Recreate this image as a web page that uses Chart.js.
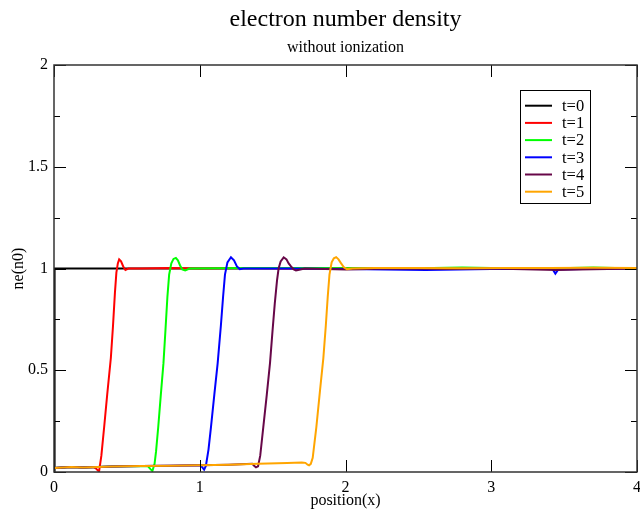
<!DOCTYPE html>
<html><head><meta charset="utf-8">
<script src="https://cdn.jsdelivr.net/npm/chart.js@4"></script>
<style>html,body{margin:0;padding:0;background:#fff}</style>
</head><body>
<canvas id="c" width="640" height="514"></canvas>
<script>
const titleText = 'electron number density';
const subtitleText = 'without ionization';
const xAxisTitle = 'position(x)';
const yAxisTitle = 'ne(n0)';
const seriesLabels = ['t=0', 't=1', 't=2', 't=3', 't=4', 't=5'];
const seriesColors = ['#000000', '#ff0000', '#00ff00', '#0000ff', '#670748', '#ffa500'];
const xTickValues = [0, 1, 2, 3, 4];
const yTickValues = [0, 0.5, 1, 1.5, 2];
const yMinorTickValues = [0.25, 0.75, 1.25, 1.75];

const x0 = [0, 0.004, 4];
const y0 = [0, 1, 1];

const x1 = [0, 0.12, 0.2, 0.27, 0.29, 0.309, 0.325, 0.344, 0.365, 0.39, 0.405, 0.418, 0.428, 0.438, 0.447, 0.46, 0.475, 0.49, 0.51, 0.6, 0.8, 1.0, 1.3, 1.6, 2.0, 2.4, 2.8, 3.2, 3.6, 4.0];
const y1 = [0.02, 0.024, 0.022, 0.024, 0.016, 0.002, 0.08, 0.22, 0.38, 0.56, 0.72, 0.88, 0.98, 1.025, 1.045, 1.035, 1.01, 0.993, 1.0, 1.0, 1.003, 1.0, 1.002, 1.0, 1.001, 1.0, 1.002, 0.999, 1.0, 1.0];

const x2 = [0, 0.12, 0.2, 0.4, 0.6, 0.645, 0.662, 0.675, 0.69, 0.70, 0.715, 0.733, 0.751, 0.765, 0.778, 0.79, 0.805, 0.82, 0.836, 0.85, 0.865, 0.88, 0.9, 0.93, 1.3, 1.8, 2.4, 2.8, 3.3, 3.7, 4.0];
const y2 = [0.02, 0.024, 0.022, 0.027, 0.029, 0.028, 0.014, 0.005, 0.04, 0.1, 0.22, 0.38, 0.535, 0.7, 0.86, 0.97, 1.025, 1.047, 1.052, 1.04, 1.015, 0.995, 0.99, 1.0, 1.003, 1.002, 1.0, 1.005, 0.999, 1.005, 1.0];

const x3 = [0, 0.12, 0.2, 0.4, 0.6, 0.8, 1.0, 1.015, 1.03, 1.042, 1.06, 1.077, 1.1, 1.123, 1.145, 1.16, 1.173, 1.19, 1.214, 1.235, 1.255, 1.275, 1.3, 1.6, 2.0, 2.55, 3.0, 3.42, 3.44, 3.46, 3.8, 4.0];
const y3 = [0.02, 0.024, 0.022, 0.027, 0.029, 0.031, 0.033, 0.025, 0.012, 0.03, 0.11, 0.22, 0.38, 0.535, 0.72, 0.86, 0.97, 1.03, 1.055, 1.04, 1.01, 0.997, 1.0, 1.0, 0.998, 0.993, 0.998, 0.998, 0.975, 0.995, 1.0, 1.0];

const x4 = [0, 0.12, 0.2, 0.4, 0.6, 0.8, 1.0, 1.2, 1.36, 1.375, 1.386, 1.4, 1.415, 1.436, 1.46, 1.482, 1.5, 1.515, 1.53, 1.541, 1.555, 1.576, 1.595, 1.61, 1.626, 1.645, 1.66, 1.69, 1.72, 2.0, 2.3, 2.7, 3.0, 3.45, 3.6, 4.0];
const y4 = [0.02, 0.024, 0.022, 0.027, 0.029, 0.031, 0.033, 0.036, 0.04, 0.03, 0.023, 0.028, 0.08, 0.22, 0.38, 0.535, 0.7, 0.83, 0.94, 1.0, 1.035, 1.055, 1.045, 1.025, 1.01, 0.995, 0.99, 0.995, 1.0, 0.995, 1.0, 0.997, 1.0, 0.993, 0.995, 1.0];

const x5 = [0, 0.12, 0.2, 0.4, 0.6, 0.8, 1.0, 1.2, 1.4, 1.6, 1.7, 1.725, 1.74, 1.75, 1.762, 1.775, 1.8, 1.825, 1.848, 1.865, 1.878, 1.89, 1.905, 1.92, 1.936, 1.952, 1.97, 1.99, 2.01, 2.05, 2.2, 2.5, 2.8, 3.1, 3.4, 3.7, 4.0];
const y5 = [0.02, 0.024, 0.022, 0.027, 0.029, 0.031, 0.033, 0.036, 0.04, 0.044, 0.047, 0.045, 0.036, 0.033, 0.04, 0.07, 0.22, 0.4, 0.56, 0.72, 0.86, 0.97, 1.03, 1.05, 1.056, 1.045, 1.025, 1.005, 0.997, 1.0, 1.003, 1.002, 1.001, 1.003, 1.002, 1.004, 1.003];

const xs = [x0, x1, x2, x3, x4, x5];
const ys = [y0, y1, y2, y3, y4, y5];

const FONT = "'Liberation Serif', 'DejaVu Serif', serif";

const datasets = seriesLabels.map((lab, i) => ({
  label: lab,
  data: xs[i].map((xv, k) => ({x: xv, y: ys[i][k]})),
  borderColor: seriesColors[i],
  backgroundColor: seriesColors[i],
  borderWidth: 2,
  pointRadius: 0,
  showLine: true,
  tension: 0,
  order: seriesLabels.length - 1 - i
}));

const framePlugin = {
  id: 'frame',
  afterDraw(chart) {
    const {ctx, chartArea: {left, right, top, bottom}, scales: {x, y}} = chart;
    ctx.save();
    ctx.strokeStyle = '#000';
    ctx.lineWidth = 1;
    const seg = (a, b, c, d) => { ctx.beginPath(); ctx.moveTo(a, b); ctx.lineTo(c, d); ctx.stroke(); };
    yTickValues.forEach(v => {
      const py = Math.round(y.getPixelForValue(v)) + 0.5;
      seg(left, py, left + 12, py); seg(right - 12, py, right, py);
    });
    yMinorTickValues.forEach(v => {
      const py = Math.round(y.getPixelForValue(v)) + 0.5;
      seg(left, py, left + 6, py); seg(right - 6, py, right, py);
    });
    xTickValues.forEach(v => {
      const px = Math.round(x.getPixelForValue(v)) + 0.5;
      seg(px, bottom, px, bottom - 12); seg(px, top, px, top + 12);
    });
    ctx.strokeStyle = '#333';
    ctx.lineWidth = 1.5;
    ctx.strokeRect(left, top, right - left, bottom - top);

    // legend
    const bx = 520.5, by = 90.5, bw = 70, bh = 113;
    ctx.fillStyle = '#fff';
    ctx.fillRect(bx, by, bw, bh);
    ctx.strokeStyle = '#000';
    ctx.lineWidth = 1;
    ctx.strokeRect(bx, by, bw, bh);
    ctx.font = '16.5px ' + FONT;
    ctx.textBaseline = 'middle';
    ctx.textAlign = 'left';
    chart.data.datasets.forEach((ds, i) => {
      const ry = 105.7 + i * 17.2;
      ctx.strokeStyle = ds.borderColor;
      ctx.lineWidth = 2;
      seg(525, ry, 552, ry);
      ctx.fillStyle = '#000';
      ctx.fillText(ds.label, 562, ry + 1);
    });
    ctx.restore();
  }
};

new Chart(document.getElementById('c'), {
  type: 'scatter',
  data: {datasets},
  plugins: [framePlugin],
  options: {
    responsive: false,
    animation: false,
    devicePixelRatio: 1,
    layout: {padding: {left: 0, right: 3, top: 0, bottom: 0}},
    plugins: {
      legend: {display: false},
      tooltip: {enabled: false},
      title: {display: true, text: titleText, fullSize: false, color: '#000',
        font: {family: FONT, size: 24, weight: 'normal'}, padding: {top: 5, bottom: 0}},
      subtitle: {display: true, text: subtitleText, fullSize: false, color: '#000',
        font: {family: FONT, size: 16, weight: 'normal'}, padding: {top: 4, bottom: 8}}
    },
    scales: {
      x: {
        type: 'linear', min: 0, max: 4,
        grid: {display: false, drawTicks: false},
        border: {display: false},
        ticks: {stepSize: 1, color: '#000', padding: 6, font: {family: FONT, size: 16}, maxRotation: 0,
          callback: v => String(v)},
        title: {display: true, text: xAxisTitle, color: '#000', font: {family: FONT, size: 16}, padding: {top: 0, bottom: 4}},
        afterFit(s) { s.height = 42; s.paddingLeft = 0; s.paddingRight = 0; }
      },
      y: {
        type: 'linear', min: 0, max: 2,
        grid: {display: false, drawTicks: false},
        border: {display: false},
        ticks: {stepSize: 0.5, color: '#000', padding: 6, font: {family: FONT, size: 16},
          callback: v => String(Math.round(v * 100) / 100)},
        title: {display: true, text: yAxisTitle, color: '#000', font: {family: FONT, size: 16}, padding: {top: 9, bottom: 0}},
        afterFit(s) { s.width = 54; s.paddingTop = 0; s.paddingBottom = 0; }
      }
    }
  }
});
</script>
</body></html>
